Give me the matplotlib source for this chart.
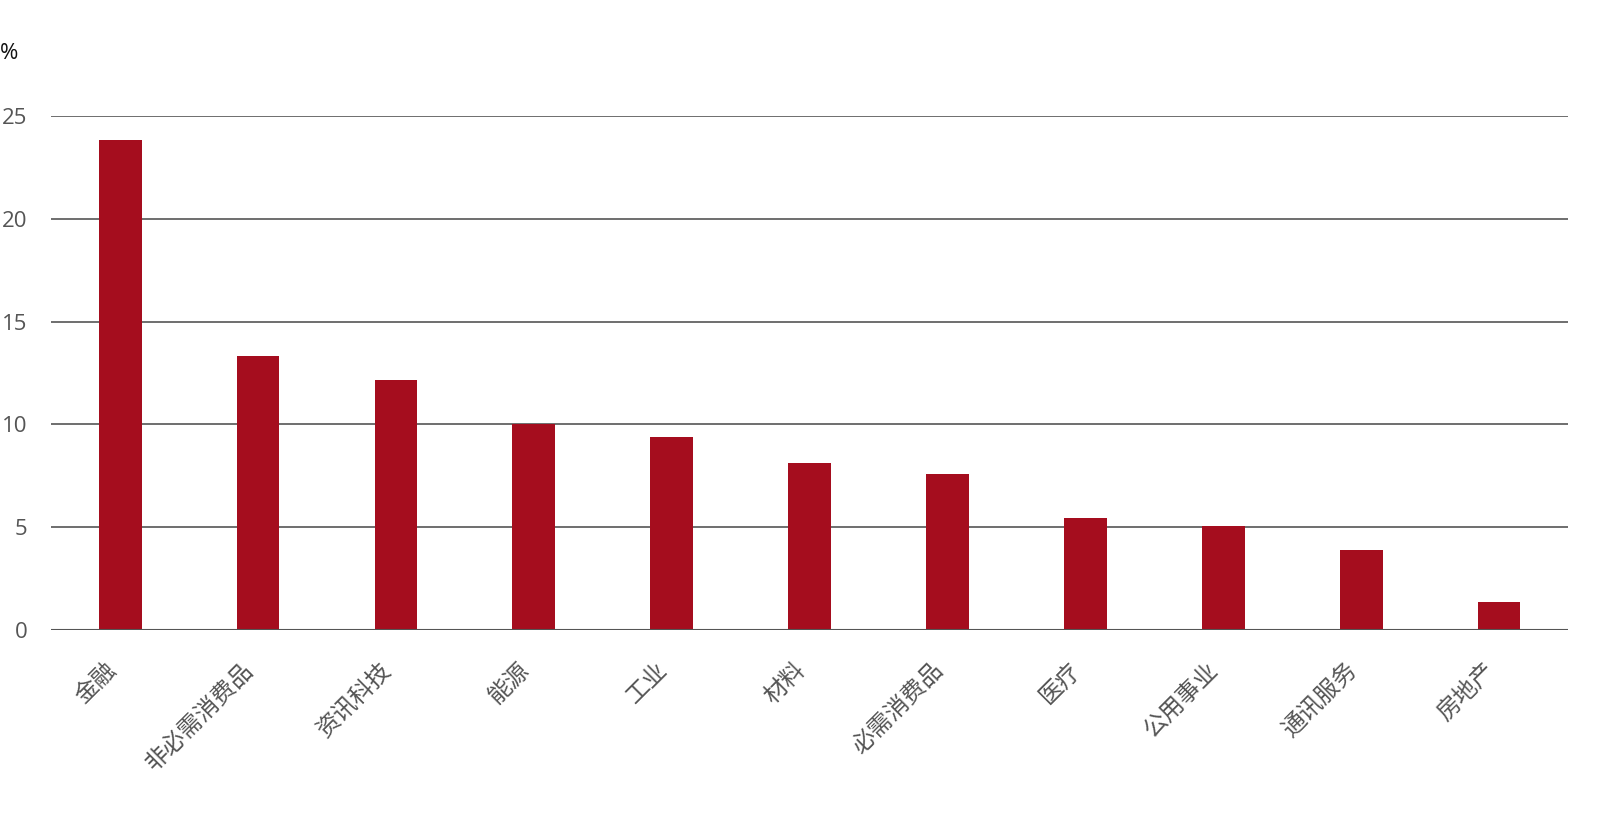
import numpy as np
import matplotlib.pyplot as plt
from matplotlib.transforms import ScaledTranslation

plt.rcParams['font.family'] = ['Noto Sans CJK SC', 'Open Sans', 'DejaVu Sans']

# Sector weights (%)
sectors = ['金融', '非必需消费品', '资讯科技', '能源', '工业', '材料',
           '必需消费品', '医疗', '公用事业', '通讯服务', '房地产']
weights = [23.83, 13.33, 12.16, 10.02, 9.39, 8.12, 7.59, 5.45, 5.06, 3.89, 1.36]
y_ticks = [0, 5, 10, 15, 20, 25]

fig = plt.figure(figsize=(16, 8.22), dpi=100)
ax = fig.add_axes([0.032, 0.2336, 0.948, 0.6253])

x = np.arange(len(sectors))
ax.bar(x, weights, width=0.31, color='#a50d1e', zorder=3)

ax.set_xlim(-0.5, len(sectors) - 0.5)
ax.set_ylim(0, 25)
ax.set_yticks(y_ticks)
ax.set_yticklabels([str(v) for v in y_ticks], family='Open Sans')
ax.yaxis.grid(True, color='#555555', lw=1.2, zorder=0)
ax.set_axisbelow(True)
for s in ax.spines.values():
    s.set_visible(False)
ax.axhline(0, color='#555555', lw=1.5, zorder=4)

ax.tick_params(axis='both', length=0, labelsize=16, labelcolor='#555555')
ax.tick_params(axis='y', pad=17)
ax.set_xticks(x)
ax.set_xticklabels(sectors, rotation=45, ha='right', va='center',
                   rotation_mode='anchor', fontsize=17)
ax.tick_params(axis='x', pad=22)
# nudge the rotated labels a little left and down
shift = ScaledTranslation(-0.08, -0.06, fig.dpi_scale_trans)
for lab in ax.get_xticklabels():
    lab.set_transform(lab.get_transform() + shift)

fig.text(0.0, 0.935, '%', fontsize=16, family='Open Sans', color='#111111',
         ha='left', va='center')

fig.savefig('out.png', dpi=100)
